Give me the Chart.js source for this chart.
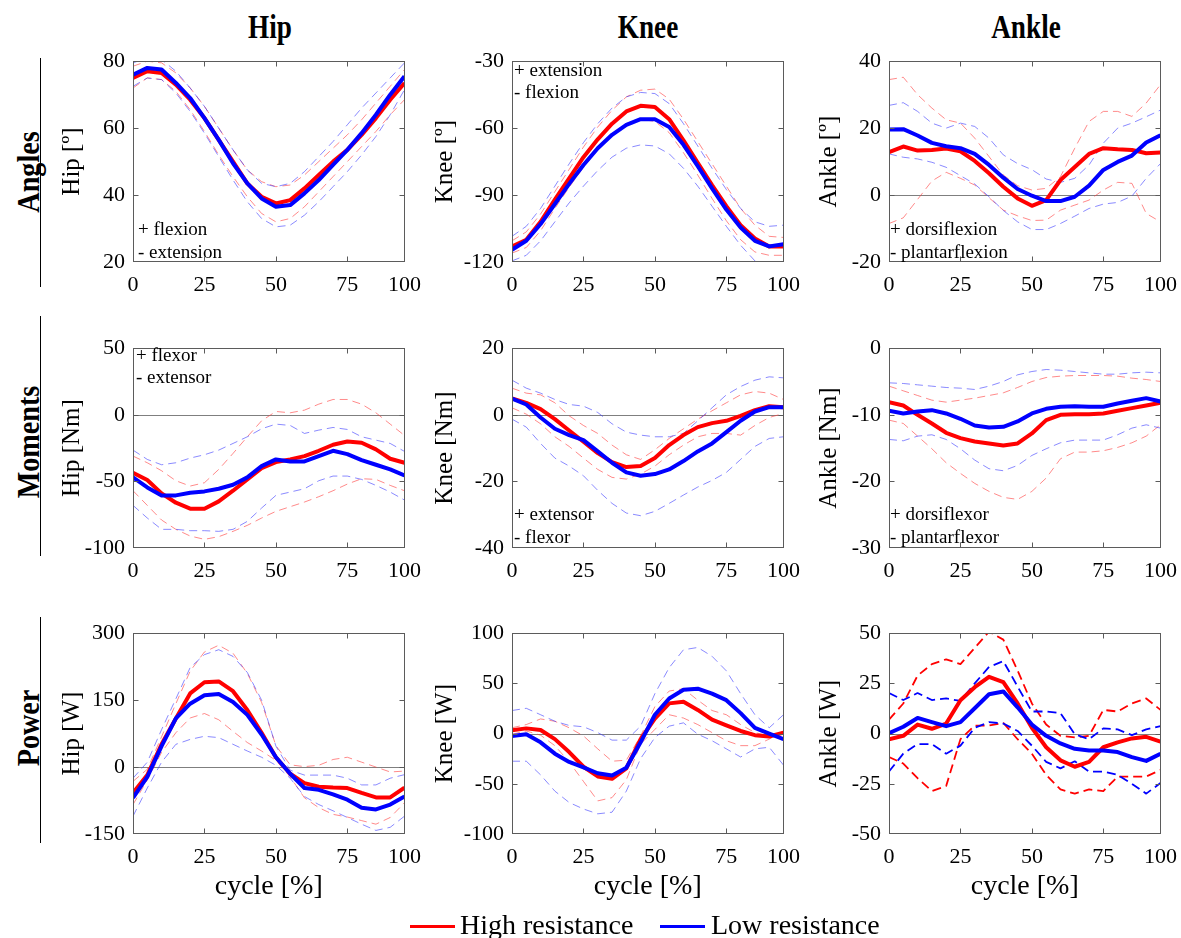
<!DOCTYPE html>
<html><head><meta charset="utf-8">
<script src="https://cdn.jsdelivr.net/npm/chart.js@4.4.1/dist/chart.umd.min.js"></script>
<style>
html,body{margin:0;padding:0;background:#fff;width:1181px;height:938px;overflow:hidden;position:relative;font-family:'Liberation Serif','Times New Roman',serif;color:#000;}
canvas{position:absolute;}
.ttl{position:absolute;font-weight:bold;font-size:34px;line-height:34px;transform:translate(-50%,-50%) scaleX(0.8);white-space:nowrap;}
.rowl{position:absolute;font-weight:bold;font-size:32px;line-height:32px;transform:translate(-50%,-50%) rotate(-90deg) scaleX(0.88);white-space:nowrap;}
.vline{position:absolute;width:1px;background:#000;}
.ann{position:absolute;font-size:19px;line-height:19px;transform:translateY(-50%);white-space:nowrap;}
.leg{position:absolute;font-size:28px;line-height:28px;transform:translateY(-50%);white-space:nowrap;}
.legline{position:absolute;height:3px;}
</style>
</head><body>
<div class="ttl" style="left:270px;top:27px">Hip</div>
<div class="ttl" style="left:648px;top:27px">Knee</div>
<div class="ttl" style="left:1026px;top:27px">Ankle</div>

<div class="rowl" style="left:28px;top:172px">Angles</div>
<div class="rowl" style="left:28px;top:442px">Moments</div>
<div class="rowl" style="left:28px;top:728px">Power</div>
<div class="vline" style="left:40px;top:58px;height:229px"></div>
<div class="vline" style="left:40px;top:316px;height:240px"></div>
<div class="vline" style="left:40px;top:617px;height:226px"></div>

<canvas id="c00" width="383" height="262"></canvas>
<canvas id="c01" width="383" height="262"></canvas>
<canvas id="c02" width="383" height="262"></canvas>
<canvas id="c10" width="383" height="261"></canvas>
<canvas id="c11" width="383" height="261"></canvas>
<canvas id="c12" width="383" height="261"></canvas>
<canvas id="c20" width="383" height="294"></canvas>
<canvas id="c21" width="383" height="294"></canvas>
<canvas id="c22" width="383" height="294"></canvas>

<div class="ann" style="left:138px;top:228px">+ flexion</div>
<div class="ann" style="left:138px;top:251px">- extension</div>
<div class="ann" style="left:514px;top:69px">+ extension</div>
<div class="ann" style="left:514px;top:91px">- flexion</div>
<div class="ann" style="left:890px;top:228px">+ dorsiflexion</div>
<div class="ann" style="left:890px;top:251px">- plantarflexion</div>
<div class="ann" style="left:136px;top:354px">+ flexor</div>
<div class="ann" style="left:136px;top:376px">- extensor</div>
<div class="ann" style="left:514px;top:513px">+ extensor</div>
<div class="ann" style="left:514px;top:536px">- flexor</div>
<div class="ann" style="left:890px;top:513px">+ dorsiflexor</div>
<div class="ann" style="left:890px;top:536px">- plantarflexor</div>

<div class="legline" style="left:410px;top:925px;width:45px;background:#ff0000"></div>
<div class="leg" style="left:460px;top:925px">High resistance</div>
<div class="legline" style="left:660px;top:925px;width:45px;background:#0000ff"></div>
<div class="leg" style="left:711px;top:925px">Low resistance</div>

<script>
// ---------- data ----------
const cycle = [0,5,10,15,20,25,30,35,40,45,50,55,60,65,70,75,80,85,90,95];
const xTickValues = [0,25,50,75,95];
const xTickLabels = ['0','25','50','75','100'];

// Angles - Hip
const hipAngTicks = [20,40,60,80];
const hipAngHigh   = [75,77,76.5,73,68.5,63,56.5,50,43.5,39.5,37.5,38.5,42,46,50,53.5,58,63,68.5,73.5];
const hipAngHighUp = [78.5,80,79.5,76.5,72,66.5,60,53.5,47.5,44,42.5,43,46,50,54,58,62.5,67.5,72.5,77.5];
const hipAngHighLo = [72,75,74.5,71,65.5,59,52,45.5,39.5,34.5,32,33,36.5,41,45.5,50,54.5,59,64,68.5];
const hipAngLow    = [76,78,77.5,73.5,69,63,56.5,49.5,43.5,39,36.5,37,40.5,44.5,49,53.5,58.5,64,70,75.5];
const hipAngLowUp  = [79.5,81,80.5,77,72,66.5,60,53.5,47.5,43.5,42.5,43.5,47,51.5,56,61,66,70.5,75,79.5];
const hipAngLowLo  = [72.5,75,74.5,70.5,65,58.5,51.5,44.5,38,33,30.5,31,34,38,42.5,47,52,57.5,64,71.5];

// Angles - Knee
const kneeAngTicks = [-120,-90,-60,-30];
const kneeAngHigh   = [-113,-110,-102,-92,-82.5,-73,-65,-58,-52.5,-50,-50.5,-56,-65.5,-75.5,-85.5,-95,-103.5,-109.5,-113,-113];
const kneeAngHighUp = [-110.5,-106.5,-98.5,-88.5,-78.5,-68.5,-59.5,-52,-46,-43,-42.5,-47,-56,-66,-76,-86,-96,-103.5,-108.5,-109];
const kneeAngHighLo = [-116,-113.5,-106,-96,-86.5,-77.5,-69.5,-63,-58,-56,-57,-62,-71,-81,-91.5,-101.5,-110,-115.5,-117,-117];
const kneeAngLow    = [-114.5,-110.5,-103,-94,-85,-76.5,-69,-63,-58.5,-56,-56,-59.5,-67.5,-77,-87,-96.5,-104.5,-110.5,-113,-112];
const kneeAngLowUp  = [-108.5,-104,-96,-86,-76,-66.5,-58,-51,-46,-44,-44.5,-49,-58,-68,-78,-87.5,-96,-102,-104,-103.5];
const kneeAngLowLo  = [-119.5,-117,-110.5,-102,-93.5,-86,-79,-73,-69,-67.5,-68,-71.5,-78,-86,-95,-104,-112.5,-119.5,-124,-125];

// Angles - Ankle
const ankAngTicks = [-20,0,20,40];
const ankAngHigh   = [12.8,14.5,13.3,13.5,13.9,13.1,10.2,6.5,2.5,-1,-3.2,-1.5,4.5,8.4,12.3,14,13.7,13.5,12.5,12.7];
const ankAngHighUp = [34.5,35.2,30,26,22.5,21.5,17,11.5,6,2.8,1.5,2,5.5,14,22,25,25,23.5,27.5,33];
const ankAngHighLo = [-8.5,-6.8,-1.3,4.2,6.8,5,3,-0.8,-4.5,-6.2,-7.6,-7.5,-4.5,-3,-1.5,1.5,3.8,3.5,-5.5,-8];
const ankAngLow    = [19.6,19.7,17.8,15.6,14.6,14,12.3,9,5.2,1.8,-0.2,-1.8,-1.8,-0.5,2.8,7.5,9.9,11.8,15.7,17.9];
const ankAngLowUp  = [26.8,27.6,25,21.5,20,21.5,20.5,17,12,9.4,7.6,4.8,3.8,5,9,15.5,20,21.5,23.4,25.4];
const ankAngLowLo  = [12.3,11.3,10.8,9.8,8.3,5.8,3.3,-0.5,-4.6,-8,-10.3,-10.3,-8.5,-6.3,-4,-2.7,-2.2,-0.3,5,9.4];

// Moments - Hip
const hipMomTicks = [-100,-50,0,50];
const hipMomHigh   = [-43.5,-49,-59,-66,-70.5,-70.5,-65,-57,-48.5,-40,-35.5,-33.5,-31,-27,-22.5,-20,-21,-26,-33,-36];
const hipMomHighUp = [-31,-36,-42,-49.5,-53.5,-51,-41,-29,-16.5,-4.5,2.5,1.5,3.5,8,11.5,11.5,8,1.5,-7,-15.5];
const hipMomHighLo = [-57,-68,-79,-86,-91,-93.5,-91.5,-87.5,-83,-77.5,-72.5,-69,-65.5,-61.5,-57,-52,-48,-48.5,-53,-57];
const hipMomLow    = [-47,-54.5,-60.5,-60.5,-58.5,-57.5,-55.5,-52.5,-47,-38.5,-33.5,-35,-35,-31,-27,-29.5,-34,-37.5,-41,-45.5];
const hipMomLowUp  = [-26.5,-33.5,-37.5,-36,-32.5,-30,-26.5,-21.5,-16.5,-10.5,-7,-8,-14,-11.5,-9.5,-11,-16.5,-19,-21.5,-27.5];
const hipMomLowLo  = [-68,-77.5,-86,-86,-87,-87,-87.5,-86,-80,-70,-60.5,-58,-55.5,-49.5,-46,-46,-48.5,-53,-58,-64];

// Moments - Knee
const kneeMomTicks = [-40,-20,0,20];
const kneeMomHigh   = [4.9,3.6,1.7,-1.3,-4.7,-8.1,-11.5,-14.2,-15.7,-15.4,-13,-9.1,-6.1,-3.7,-2.5,-1.8,-0.3,1.4,2.6,2.3];
const kneeMomHighUp = [8,6.5,6,3.6,-0.3,-3.2,-5.6,-9.1,-12,-13.4,-10.5,-7.1,-4.2,-1.3,1.2,3.6,6,7,6.5,4.6];
const kneeMomHighLo = [2.1,0.2,-2.7,-6.6,-9.5,-13,-16.4,-18.8,-19.3,-17.8,-15.4,-12,-9.1,-6.6,-5.6,-5.6,-6.1,-3.2,-0.8,0.4];
const kneeMomLow    = [4.9,3.1,-0.8,-4.2,-6.1,-7.6,-11,-14.4,-17.3,-18.3,-17.8,-16.4,-13.9,-11,-8.6,-5.2,-1.8,1,2.3,2.3];
const kneeMomLowUp  = [10.4,8,6.5,4.6,3.1,2.6,0.7,-2.7,-5.2,-6.1,-6.6,-6.6,-5.6,-1.8,2.1,6,8.5,10.4,11.4,11.1];
const kneeMomLowLo  = [-1.3,-3.7,-8.6,-13,-15.4,-18.3,-22.7,-26.6,-29.5,-30.3,-29,-26.6,-24.1,-21.7,-19.7,-17.3,-13.4,-9.5,-7.1,-6.6];

// Moments - Ankle
const ankMomTicks = [-30,-20,-10,0];
const ankMomHigh   = [-8.1,-8.6,-10,-11.3,-12.7,-13.5,-14,-14.3,-14.6,-14.3,-12.8,-10.8,-10,-9.9,-9.9,-9.8,-9.4,-9,-8.6,-8.2];
const ankMomHighUp = [-5.7,-6.4,-7.1,-7.8,-8.1,-7.8,-7.5,-7.1,-6.7,-5.9,-5,-4.4,-4.2,-4.1,-4.1,-4.1,-4.2,-4.5,-4.7,-5];
const ankMomHighLo = [-10.8,-11.3,-13.2,-15.1,-17.2,-18.8,-20.3,-21.5,-22.4,-22.7,-21.5,-19.5,-16.6,-15.6,-15.6,-15.4,-14.9,-14.2,-13.2,-11.5];
const ankMomLow    = [-9.4,-9.8,-9.5,-9.3,-9.8,-10.6,-11.6,-11.9,-11.8,-11,-9.8,-9.1,-8.8,-8.7,-8.8,-8.8,-8.3,-7.9,-7.5,-8];
const ankMomLowUp  = [-5.2,-5.3,-5.5,-5.7,-5.9,-6,-6.2,-5.7,-5,-4,-3.5,-3.2,-3.3,-3.5,-3.7,-3.9,-3.9,-3.7,-3.6,-3.7];
const ankMomLowLo  = [-13.7,-13.9,-13.2,-13,-13.7,-15.1,-16.8,-18.1,-18.4,-17.6,-16.1,-15.1,-14.2,-13.8,-13.8,-13.8,-13,-12,-11.5,-12];

// Power - Hip
const hipPowTicks = [-150,0,150,300];
const hipPowHigh   = [-58,-18,51,109,165,190,192,170,128,77,22,-15,-36,-44,-46,-47,-58,-68,-68,-46];
const hipPowHighUp = [-32,-5,68,142,215,258,273,255,210,145,48,5,1,4,17,22,11,0,-11,-9];
const hipPowHighLo = [-84,-29,33,77,110,120,106,80,55,36,15,-22,-69,-91,-106,-112,-120,-128,-113,-80];
const hipPowLow    = [-69,-22,47,109,142,161,164,146,117,73,22,-15,-47,-51,-61,-73,-91,-95,-84,-66];
const hipPowLowUp  = [-25,11,84,153,223,252,263,248,212,150,47,-7,-18,-18,-18,-25,-40,-40,-25,-17];
const hipPowLowLo  = [-110,-47,11,51,62,69,66,51,36,22,4,-25,-66,-84,-98,-113,-128,-142,-135,-110];

// Power - Knee
const kneePowTicks = [-100,-50,0,50,100];
const kneePowHigh   = [3.2,5.2,3.6,-5.5,-18.4,-33,-42.7,-45,-34.6,-5.5,15,30.1,31.7,23.6,13.9,8.1,2.6,-1.6,-2.9,1];
const kneePowHighUp = [5.8,9,14.6,12.3,5.8,-2.3,-15.2,-27.5,-26.5,-2.3,26.9,42.4,44.7,33.3,23,18.8,9,1,-2.3,-0.6];
const kneePowHighLo = [-0.6,2.6,-1.6,-12,-28.2,-47.6,-67,-63.8,-46,-10.4,4.2,18.8,15.5,9,1,-7.1,-12,-12,-5.5,2.6];
const kneePowLow    = [-2.3,-0.6,-8.7,-20,-28.2,-33.7,-39.5,-41.7,-34,-8.7,18.8,35,43.7,44.7,39.8,33.3,20.4,5.8,0,-5.5];
const kneePowLowUp  = [23,25.2,18.8,12.3,8.1,6.8,1,-6.5,-6.5,7.4,39.8,65.7,83.5,85.8,77,62.5,39.8,18.8,5.8,18.8];
const kneePowLowLo  = [-27.5,-27.5,-41.1,-57.3,-68.6,-75.1,-79.9,-78.3,-57.3,-24.9,-3.9,7.4,10.7,-0.6,-7.1,-15.2,-23.3,-15.2,-13.6,-31.4];

// Power - Ankle
const ankPowTicks = [-50,-25,0,25,50];
const ankPowHigh   = [-2.8,-1.1,4.5,2.4,5,16.6,23.1,28.3,25.6,15,2.9,-6.8,-13.3,-16.5,-14.1,-6.8,-4.4,-2.4,-1.6,-4];
const ankPowHighUp = [7,15,28.9,34.6,37,34.6,42.7,50.8,46.8,31.4,15,4.5,-1.1,-1.9,-1.1,11.8,11,15,17.5,11.8];
const ankPowHighLo = [-11.7,-14.9,-22.2,-28.6,-26.1,-2.8,4,4,5.3,-2.8,-10,-20.6,-27.8,-29.9,-27.8,-28.6,-21.4,-21.4,-21.4,-18.1];
const ankPowLow    = [0.2,3.4,7.8,5.7,3.7,5.7,12.6,19.6,21,13.1,4.5,-1.1,-4.9,-7.6,-8.4,-8.4,-9.2,-11.7,-13.6,-10];
const ankPowLowUp  = [20.2,16.7,20.2,16.7,17.5,16.3,25,33.2,36.1,23.4,11,11,10.2,-0.3,-2.8,2.6,2.1,-0.8,2.1,3.7];
const ankPowLowLo  = [-18.9,-10,-5.2,-5.2,-10,-6,2.9,5.7,5,1.3,-6,-14.1,-17.3,-13.8,-18.9,-18.9,-20.6,-25,-29.9,-24.6];

// ---------- layout ----------
const colLeft = [133, 512, 889];
const rowTop = [56, 343, 628];
const rowH = [206, 205, 206];
const plotW = 274;
const yAxisW = 85;
const padTop = 16;
const padRight = 24;
const yTitleOffset = [61, 67, 60];
const FONT = "'Liberation Serif','Times New Roman',serif";

const panels = [
  {r:0,c:0,ticks:hipAngTicks,title:'Hip [º]',hi:[hipAngHigh,hipAngHighUp,hipAngHighLo],lo:[hipAngLow,hipAngLowUp,hipAngLowLo]},
  {r:0,c:1,ticks:kneeAngTicks,title:'Knee [º]',hi:[kneeAngHigh,kneeAngHighUp,kneeAngHighLo],lo:[kneeAngLow,kneeAngLowUp,kneeAngLowLo]},
  {r:0,c:2,ticks:ankAngTicks,title:'Ankle [º]',hi:[ankAngHigh,ankAngHighUp,ankAngHighLo],lo:[ankAngLow,ankAngLowUp,ankAngLowLo]},
  {r:1,c:0,ticks:hipMomTicks,title:'Hip [Nm]',hi:[hipMomHigh,hipMomHighUp,hipMomHighLo],lo:[hipMomLow,hipMomLowUp,hipMomLowLo]},
  {r:1,c:1,ticks:kneeMomTicks,title:'Knee [Nm]',hi:[kneeMomHigh,kneeMomHighUp,kneeMomHighLo],lo:[kneeMomLow,kneeMomLowUp,kneeMomLowLo]},
  {r:1,c:2,ticks:ankMomTicks,title:'Ankle [Nm]',hi:[ankMomHigh,ankMomHighUp,ankMomHighLo],lo:[ankMomLow,ankMomLowUp,ankMomLowLo]},
  {r:2,c:0,ticks:hipPowTicks,title:'Hip [W]',hi:[hipPowHigh,hipPowHighUp,hipPowHighLo],lo:[hipPowLow,hipPowLowUp,hipPowLowLo]},
  {r:2,c:1,ticks:kneePowTicks,title:'Knee [W]',hi:[kneePowHigh,kneePowHighUp,kneePowHighLo],lo:[kneePowLow,kneePowLowUp,kneePowLowLo]},
  {r:2,c:2,ticks:ankPowTicks,title:'Ankle [W]',hi:[ankPowHigh,ankPowHighUp,ankPowHighLo],lo:[ankPowLow,ankPowLowUp,ankPowLowLo],boldSD:true}
];

const boxPlugin = {
  id: 'matlabBox',
  beforeDatasetsDraw(chart) {
    const {ctx, chartArea: a, scales: {y}} = chart;
    if (y.min < 0 && y.max > 0) {
      const py = Math.round(y.getPixelForValue(0)) + 0.5;
      ctx.save();
      ctx.strokeStyle = '#7f7f7f';
      ctx.lineWidth = 1;
      ctx.beginPath(); ctx.moveTo(a.left, py); ctx.lineTo(a.right, py); ctx.stroke();
      ctx.restore();
    }
  },
  afterDatasetsDraw(chart) {
    const {ctx, chartArea: a, scales: {x, y}} = chart;
    ctx.save();
    ctx.strokeStyle = '#5b5b5b';
    ctx.lineWidth = 1;
    const L = Math.round(a.left) + 0.5, R = Math.round(a.right) - 0.5;
    const T = Math.round(a.top) + 0.5, B = Math.round(a.bottom) - 0.5;
    ctx.strokeRect(L, T, R - L, B - T);
    ctx.beginPath();
    const tl = 5;
    x.ticks.forEach(t => {
      const px = Math.round(x.getPixelForValue(t.value)) + 0.5;
      if (px <= L + 1 || px >= R - 1) return;
      ctx.moveTo(px, B); ctx.lineTo(px, B - tl);
      ctx.moveTo(px, T); ctx.lineTo(px, T + tl);
    });
    y.ticks.forEach(t => {
      const py = Math.round(y.getPixelForValue(t.value)) + 0.5;
      if (py <= T + 1 || py >= B - 1) return;
      ctx.moveTo(L, py); ctx.lineTo(L + tl, py);
      ctx.moveTo(R, py); ctx.lineTo(R - tl, py);
    });
    ctx.stroke();
    ctx.restore();
  }
};

function pts(arr) { return cycle.map((c, i) => ({x: c, y: arr[i]})); }

panels.forEach(p => {
  const canvas = document.getElementById('c' + p.r + p.c);
  const xH = p.r === 2 ? 72 : 40;
  canvas.style.left = (colLeft[p.c] - yAxisW) + 'px';
  canvas.style.top = (rowTop[p.r] - padTop) + 'px';
  const sdRed = p.boldSD ? '#ff0000' : 'rgba(255,60,60,0.6)';
  const sdBlue = p.boldSD ? '#0000ff' : 'rgba(60,60,255,0.6)';
  const sdW = p.boldSD ? 1.8 : 1;
  const sdDash = p.boldSD ? [9, 5] : [8, 5];
  const datasets = [
    {data: pts(p.lo[0]), borderColor: '#0000ff', borderWidth: 4},
    {data: pts(p.hi[0]), borderColor: '#ff0000', borderWidth: 4},
    {data: pts(p.lo[1]), borderColor: sdBlue, borderWidth: sdW, borderDash: sdDash},
    {data: pts(p.lo[2]), borderColor: sdBlue, borderWidth: sdW, borderDash: sdDash},
    {data: pts(p.hi[1]), borderColor: sdRed, borderWidth: sdW, borderDash: sdDash},
    {data: pts(p.hi[2]), borderColor: sdRed, borderWidth: sdW, borderDash: sdDash}
  ];
  const ticksY = p.ticks;
  new Chart(canvas, {
    type: 'line',
    data: {datasets},
    plugins: [boxPlugin],
    options: {
      responsive: false, animation: false, devicePixelRatio: 1,
      layout: {padding: {top: padTop, right: padRight, left: 0, bottom: 0}},
      plugins: {legend: {display: false}, tooltip: {enabled: false}},
      elements: {point: {radius: 0}, line: {tension: 0, borderJoinStyle: 'round', borderCapStyle: 'butt'}},
      scales: {
        x: {
          type: 'linear', min: 0, max: 95,
          grid: {display: false, drawTicks: false}, border: {display: false},
          afterBuildTicks: s => { s.ticks = xTickValues.map(v => ({value: v})); },
          afterFit: s => { s.height = xH; },
          ticks: {callback: (v, i) => xTickLabels[i], color: '#000', padding: 10, maxRotation: 0, autoSkip: false,
                  font: {family: FONT, size: 22, lineHeight: 1.2}},
          title: p.r === 2 ? {display: true, text: 'cycle [%]', color: '#000',
                  font: {family: FONT, size: 28, lineHeight: 1.2}, padding: {top: 0, bottom: 3}} : {display: false}
        },
        y: {
          type: 'linear', min: ticksY[0], max: ticksY[ticksY.length - 1],
          grid: {display: false, drawTicks: false}, border: {display: false},
          afterBuildTicks: s => { s.ticks = ticksY.map(v => ({value: v})); },
          afterFit: s => { s.width = yAxisW; },
          ticks: {color: '#000', padding: 8, font: {family: FONT, size: 22, lineHeight: 1.2}},
          title: {display: true, text: p.title, color: '#000',
                  font: {family: FONT, size: 25, lineHeight: 1.2},
                  padding: {top: yAxisW - yTitleOffset[p.c] - 15, bottom: 0}}
        }
      }
    }
  });
});
</script>
</body></html>
